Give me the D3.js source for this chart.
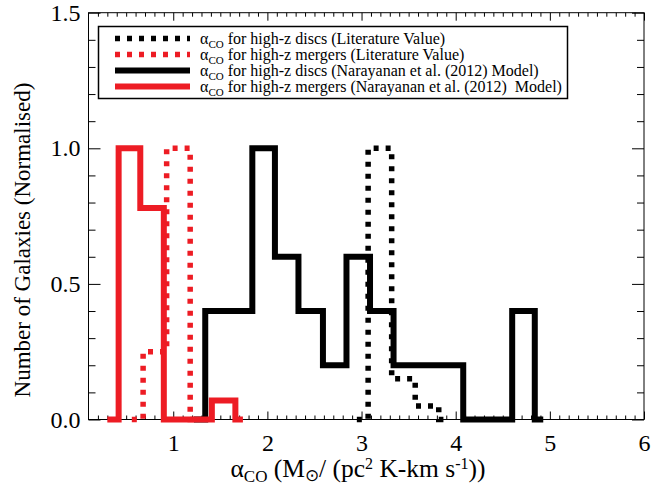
<!DOCTYPE html>
<html lang="en">
<head>
    <meta charset="UTF-8">
    <style>
        body { margin: 0; background: #fff; }
        text { font-family: "Liberation Serif", "Times New Roman", Times, serif; fill: #000; }
        .frame { fill: none; stroke: #000; stroke-width: 1px; }
        .axis line { stroke: #000; stroke-width: 1px; }
        .axis path { display: none; }
    </style>
    <title>alpha_CO histograms</title>
</head>
<body>
<script src="https://d3js.org/d3.v7.min.js" charset="utf-8"></script>
<script>
    // histogram bin edges (alpha_CO) and normalised counts
    var litDiscEdges = [2.95, 3.07, 3.32, 3.57, 3.82, 3.90];
    var litDiscCounts = [0, 1.0, 0.15, 0.05, 0];

    var litMergerEdges = [0.56, 0.68, 0.93, 1.18, 1.30];
    var litMergerCounts = [0, 0.25, 1.0, 0];

    var modelDiscEdges = [1.22, 1.34, 1.84, 2.08, 2.33, 2.59, 2.84, 3.09, 3.34, 4.08, 4.60, 4.84, 4.93];
    var modelDiscCounts = [0, 0.4, 1.0, 0.6, 0.4, 0.2, 0.6, 0.4, 0.2, 0, 0.4, 0];

    var modelMergerEdges = [0.30, 0.42, 0.65, 0.90, 1.41, 1.66, 1.74];
    var modelMergerCounts = [0, 1.0, 0.78, 0, 0.07, 0];

    var xTicks = [1, 2, 3, 4, 5, 6];
    var yTicks = [0, 0.5, 1.0, 1.5];

    var legendLabels = [
        'for high-z discs (Literature Value)',
        'for high-z mergers (Literature Value)',
        'for high-z discs (Narayanan et al. (2012) Model)',
        'for high-z mergers (Narayanan et al. (2012)\u00a0 Model)'
    ];

    var width = 659, height = 487;
    var plot = {left: 88.5, right: 644, top: 12.7, bottom: 419.5};
    var red = '#ed1c24';

    var svg = d3.select('body').append('svg').attr('width', width).attr('height', height);

    var x = d3.scaleLinear().domain([0.1, 6]).range([plot.left, plot.right]);
    var y = d3.scaleLinear().domain([0, 1.5]).range([plot.bottom, plot.top]);

    var xMinor = d3.range(2, 60).map(function (i) { return i / 10; })
        .filter(function (v) { return Math.abs(v - Math.round(v)) > 1e-6; });
    var yMinor = d3.range(1, 15).map(function (i) { return i / 10; })
        .filter(function (v) { return Math.abs(v * 2 - Math.round(v * 2)) > 1e-6; });

    // minor ticks on all four sides
    svg.append('g').attr('class', 'axis').attr('transform', 'translate(0,' + plot.bottom + ')')
        .call(d3.axisBottom(x).tickValues(xMinor).tickSize(-4).tickFormat(''));
    svg.append('g').attr('class', 'axis').attr('transform', 'translate(0,' + plot.top + ')')
        .call(d3.axisTop(x).tickValues(xMinor).tickSize(-4).tickFormat(''));
    svg.append('g').attr('class', 'axis').attr('transform', 'translate(' + plot.left + ',0)')
        .call(d3.axisLeft(y).tickValues(yMinor).tickSize(-7).tickFormat(''));
    svg.append('g').attr('class', 'axis').attr('transform', 'translate(' + plot.right + ',0)')
        .call(d3.axisRight(y).tickValues(yMinor).tickSize(-7).tickFormat(''));

    // major ticks + labels
    var xAxis = svg.append('g').attr('class', 'axis').attr('transform', 'translate(0,' + plot.bottom + ')')
        .call(d3.axisBottom(x).tickValues(xTicks).tickSize(-8).tickPadding(14).tickFormat(d3.format('d')));
    svg.append('g').attr('class', 'axis').attr('transform', 'translate(0,' + plot.top + ')')
        .call(d3.axisTop(x).tickValues(xTicks).tickSize(-8).tickFormat(''));
    var yAxis = svg.append('g').attr('class', 'axis').attr('transform', 'translate(' + plot.left + ',0)')
        .call(d3.axisLeft(y).tickValues(yTicks).tickSize(-12).tickPadding(8).tickFormat(d3.format('.1f')));
    svg.append('g').attr('class', 'axis').attr('transform', 'translate(' + plot.right + ',0)')
        .call(d3.axisRight(y).tickValues(yTicks).tickSize(-12).tickFormat(''));

    xAxis.selectAll('text').style('font-size', '24px');
    yAxis.selectAll('text').style('font-size', '24px');

    svg.append('rect').attr('class', 'frame')
        .attr('x', plot.left).attr('y', plot.top)
        .attr('width', plot.right - plot.left).attr('height', plot.bottom - plot.top);

    // step lines, IDL psym=10 style
    function steps(edges, counts) {
        var pts = counts.map(function (c, i) { return [edges[i], c]; });
        pts.push([edges[edges.length - 1], counts[counts.length - 1]]);
        return pts;
    }

    var stepLine = d3.line()
        .x(function (d) { return x(d[0]); })
        .y(function (d) { return y(d[1]); })
        .curve(d3.curveStepAfter);

    var series = [
        {edges: litDiscEdges, counts: litDiscCounts, color: '#000', dash: '5,7', w: 5.5},
        {edges: litMergerEdges, counts: litMergerCounts, color: red, dash: '5,7', w: 5.5},
        {edges: modelDiscEdges, counts: modelDiscCounts, color: '#000', dash: null, w: 6},
        {edges: modelMergerEdges, counts: modelMergerCounts, color: red, dash: null, w: 6}
    ];

    svg.append('g').selectAll('path')
        .data(series)
        .enter()
        .append('path')
        .attr('d', function (d) { return stepLine(steps(d.edges, d.counts)); })
        .attr('fill', 'none')
        .attr('stroke', function (d) { return d.color; })
        .attr('stroke-width', function (d) { return d.w; })
        .attr('stroke-dasharray', function (d) { return d.dash; })
        .attr('stroke-linejoin', 'miter');

    // legend
    var legend = svg.append('g');
    legend.append('rect')
        .attr('x', 98.5).attr('y', 26.5).attr('width', 469).attr('height', 72)
        .attr('fill', '#fff').attr('stroke', '#000').attr('stroke-width', 1.5);

    var entries = legend.selectAll('.entry')
        .data(series)
        .enter()
        .append('g').attr('class', 'entry')
        .attr('transform', function (d, i) { return 'translate(0,' + (38.5 + i * 16) + ')'; });

    entries.append('line')
        .attr('x1', 115).attr('x2', 190)
        .attr('stroke', function (d) { return d.color; })
        .attr('stroke-width', function (d) { return d.w; })
        .attr('stroke-dasharray', function (d) { return d.dash; });

    var lt = entries.append('text')
        .attr('x', 200).attr('y', 5)
        .style('font-size', '16px');
    lt.append('tspan').text('\u03b1');
    lt.append('tspan').attr('dy', 4).style('font-size', '11px').text('CO');
    lt.append('tspan').attr('dy', -4).text(function (d, i) { return ' ' + legendLabels[i]; });

    // axis titles
    var xt = svg.append('text')
        .attr('x', 358).attr('y', 477)
        .attr('text-anchor', 'middle')
        .style('font-size', '25.5px');
    xt.append('tspan').text('\u03b1');
    xt.append('tspan').attr('dy', 5).style('font-size', '17px').text('CO');
    xt.append('tspan').attr('dy', -5).text(' (M');
    xt.append('tspan').attr('dy', 4).style('font-size', '17px').text('\u2299');
    xt.append('tspan').attr('dy', -4).text('/ (pc');
    xt.append('tspan').attr('dy', -8).style('font-size', '16px').text('2');
    xt.append('tspan').attr('dy', 8).text(' K-km s');
    xt.append('tspan').attr('dy', -8).style('font-size', '16px').text('-1');
    xt.append('tspan').attr('dy', 8).text('))');

    svg.append('text')
        .attr('transform', 'translate(30,' + 240 + ') rotate(-90)')
        .attr('text-anchor', 'middle')
        .style('font-size', '23px')
        .text('Number of Galaxies (Normalised)');
</script>
</body>
</html>
